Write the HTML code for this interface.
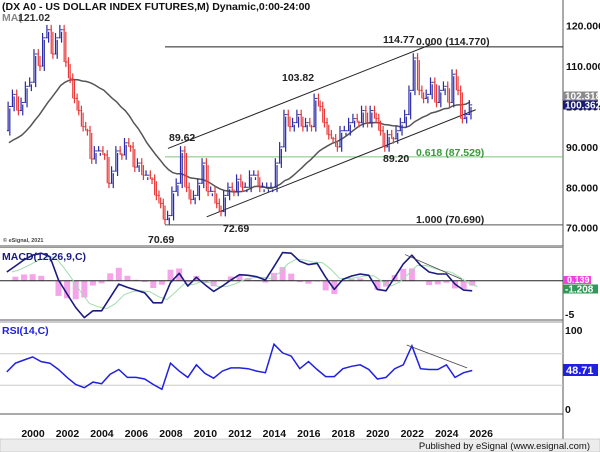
<!DOCTYPE html>
<html><head><meta charset="utf-8"><style>
body{margin:0;background:#fff;}
svg{display:block;font-family:"Liberation Sans",Arial,sans-serif;}
text{font-weight:bold;}
</style></head><body>
<svg id="c" width="600" height="452" viewBox="0 0 600 452">
<rect x="0" y="0" width="600" height="452" fill="#fff"/>
<g id="frame">
<line x1="563" y1="0" x2="563" y2="440" stroke="#555" stroke-width="1"/>
<line x1="0" y1="246" x2="563" y2="246" stroke="#555"/>
<line x1="0" y1="247.5" x2="563" y2="247.5" stroke="#999"/>
<line x1="0" y1="320" x2="563" y2="320" stroke="#555"/>
<line x1="0" y1="322" x2="563" y2="322" stroke="#999"/>
<line x1="0" y1="414" x2="563" y2="414" stroke="#555"/>
<rect x="0" y="439" width="600" height="13" fill="#ececec" stroke="#aaa" stroke-width="0.5"/>
<text x="590" y="449" font-size="9.5" text-anchor="end" fill="#111" style="font-weight:normal">Published by eSignal (www.esignal.com)</text>
</g>
<g id="main"></g>
<g id="macd"></g>
<g id="rsi"></g>
<g id="xaxis"></g>
</svg>
<script>
// quarterly closes starting 1994Q1 (1994-1998 used for MA warm-up)
const closes = [95,90,88,88, 84,82,85,84, 86,88,86,88, 90,95,97,99, 100,101,96,94,
 100,103,99,101, 105,106,113,110, 117,119,113,117, 119,111,107,102, 99,95,94,87,
 89,89,88,81, 84,89,88,91, 90,85,86,83, 83,82,78,76, 72,73,79,81, 89,80,77,78,
 81,86,79,79, 76,74,78,80, 79,82,80,80, 83,83,80,80, 80,80,86,90, 98,95,96,98,
 95,96,95,102, 100,96,93,92, 90,94,94,96, 97,96,99,96, 99,97,94,90, 93,92,94,96,
 98,104,112,104, 102,103,106,101, 104,105,101,108, 104,97,98,100.4];
const startYear = 1994;
const maWindow = 20;
const priceTicks = [70,80,90,100,110,120];
const years = [2000,2002,2004,2006,2008,2010,2012,2014,2016,2018,2020,2022,2024,2026];
// half-year values from 1999.0
const macdVals = [1.3,2.2,3.1,3.8,4.1,3.6,0.1,-2,-4,-5.5,-4.5,-4.5,-2.5,-0.5,-1,-1.4,-1.8,-3.3,-3.3,-0.3,1.1,-0.8,0.5,-0.6,-1.6,-0.8,0.1,0.9,0.8,0.6,0.1,2.1,4.2,4.1,2.9,2.4,2.6,0.5,-1.3,0.2,0.7,1,0.8,-1.3,-1.5,0.5,2.5,3.8,2.3,1.3,1,1,-0.5,-1.4,-1.5];
const rsiVals = [47,58,62,66,60,58,50,40,31,27,34,32,44,50,40,40,38,31,25,58,48,40,56,45,39,48,52,52,51,48,46,82,71,67,51,60,50,41,41,51,54,56,50,38,40,51,56,80,51,50,50,56,40,46,48.7];
const rsiLevels = [30,70];

const NS="http://www.w3.org/2000/svg";
function mk(parent,tag,attrs,text){const e=document.createElementNS(NS,tag);for(const k in attrs)e.setAttribute(k,attrs[k]);if(text!==undefined)e.textContent=text;parent.appendChild(e);return e;}
const X = yr => 24 + (yr-2000)*17.24;
const Y = p => 25.7 + (120-p)*4.04;
const YM = v => 280.7 - v*6.7;
const YR = v => 409 - v*0.79;
const qYear = i => startYear + i*0.25 + 0.125;

const main=document.getElementById('main');
priceTicks.forEach(p=>{
 const t=mk(main,'text',{x:566,y:Y(p)+4,'font-size':10.5,fill:'#111'},p.toFixed(3));
 
 
});
function hline(g,y,x1,x2,col,name){const l=mk(g,'line',{x1:x1,y1:y,x2:x2,y2:y,stroke:col,'stroke-width':1});}
hline(main,Y(114.77),165,563,'#222','fib-0-line');
hline(main,Y(87.529),165,563,'#7cc47c','fib-0618-line');
hline(main,Y(70.69),165,563,'#555','fib-1-line');
[[2008.35,89.62,2023.7,115.5],[2010.6,72.69,2026.2,99.2]].forEach((c,i)=>{
 const l=mk(main,'line',{x1:X(c[0]),y1:Y(c[1]),x2:X(c[2]),y2:Y(c[3]),stroke:'#222','stroke-width':1});
 
 
});
const firstBar = (1999-startYear)*4;
let mpts=[];
for(let i=firstBar;i<closes.length;i++){let s=0;for(let j=i-maWindow+1;j<=i;j++)s+=closes[j];mpts.push(X(qYear(i)).toFixed(1)+','+Y(s/maWindow).toFixed(1));}
const ma=mk(main,'polyline',{points:mpts.join(' '),fill:'none',stroke:'#555','stroke-width':1.5});


for(let i=firstBar;i<closes.length;i++){
 const o=closes[i-1],c=closes[i],x=X(qYear(i));
 const up=c>=o,col=up?'#2a2aa8':'#e83838';
 const hi=Math.max(o,c)+1.2,lo=Math.min(o,c)-1.2;
 const b=mk(main,'g',{});
 
 
 mk(b,'line',{x1:x-0.8,y1:Y(hi),x2:x-0.8,y2:Y(Math.min(o,c)),stroke:col,'stroke-width':1.2});
 mk(b,'line',{x1:x+0.9,y1:Y(Math.max(o,c)-0.5),x2:x+0.9,y2:Y(lo),stroke:col,'stroke-width':1.2});
 mk(b,'line',{x1:x-2,y1:Y(o),x2:x,y2:Y(o),stroke:col,'stroke-width':1});
 mk(b,'line',{x1:x,y1:Y(c),x2:x+2.1,y2:Y(c),stroke:col,'stroke-width':1});
}
const labs=[[2,10,'(DX A0 - US DOLLAR INDEX FUTURES,M) Dynamic,0:00-24:00','#111',10.5,'chart-title'],
[2,21,'MA(','#888',10.5,'ma-label'],[18,21,'121.02','#333',10.5,'high-2001-label'],
[169,141,'89.62','#222',10.5,'label-8962'],[282,81,'103.82','#222',10.5,'label-10382'],
[383,43,'114.77','#222',10.5,'label-11477'],[416,45,'0.000 (114.770)','#222',10.5,'fib-0-label'],
[416,156,'0.618 (87.529)','#3a9a3a',10.5,'fib-0618-label'],[383,162,'89.20','#222',10.5,'label-8920'],
[416,223,'1.000 (70.690)','#222',10.5,'fib-1-label'],[148,243,'70.69','#222',10.5,'label-7069'],
[223,232,'72.69','#222',10.5,'label-7269'],[3,242,'© eSignal, 2021','#444',5.5,'copyright-label']];
labs.forEach(l=>{const t=mk(main,'text',{x:l[0],y:l[1],fill:l[3],'font-size':l[4]},l[2]);});
function badge(g,y,bg,fg,txt,name){const b=mk(g,'g',{});mk(b,'rect',{x:563,y:y,width:35,height:9,fill:bg});mk(b,'text',{x:565,y:y+8,'font-size':10,fill:fg},txt);}
badge(main,91.5,'#8a8a8a','#fff','102.318','ma-value-badge');
badge(main,100.5,'#1a1a78','#fff','100.362','price-value-badge');

// MACD
const mg=document.getElementById('macd');
const sig=[];let e=macdVals[0];macdVals.forEach(v=>{e=e+(v-e)*0.45;sig.push(e);});
macdVals.forEach((v,i)=>{
 const x=X(1999+i*0.5),h=(v-sig[i])*1.2;
 const r=mk(mg,'rect',{x:x-3,y:Math.min(YM(0),YM(h)),width:6,height:Math.abs(YM(h)-YM(0)),fill:'#f59ae8',opacity:0.9});
 
 
});
hline(mg,YM(0),0,563,'#222','macd-zero-line');
const sp=mk(mg,'polyline',{points:sig.map((v,i)=>X(1999+i*0.5+0.3).toFixed(1)+','+YM(v).toFixed(1)).join(' '),fill:'none',stroke:'#9fdcb0','stroke-width':1});


const mp=mk(mg,'polyline',{points:macdVals.map((v,i)=>X(1999+i*0.5).toFixed(1)+','+YM(v).toFixed(1)).join(' '),fill:'none',stroke:'#1a1a80','stroke-width':1.6,'stroke-linejoin':'round'});


const mt=mk(mg,'line',{x1:X(2022.1),y1:YM(3.9),x2:X(2025.4),y2:YM(0.2),stroke:'#444','stroke-width':0.8});


const ml=mk(mg,'text',{x:2,y:260,'font-size':10.5,fill:'#1a1a80'},'MACD(12,26,9,C)');


const m5=mk(mg,'text',{x:565,y:318,'font-size':10.5,fill:'#111'},'-5');


(function(){const b=mk(mg,'g',{});mk(b,'rect',{x:563,y:276,width:28,height:8,fill:'#ee44dd'});mk(b,'text',{x:567,y:283,'font-size':9,fill:'#fff'},'0.139');})();
badge(mg,284.5,'#2e9a55','#fff','-1.208','macd-value-badge');

// RSI
const rg=document.getElementById('rsi');
rsiLevels.forEach(v=>hline(rg,YR(v),0,563,'#ccc','rsi-level-'+v));
const rp=mk(rg,'polyline',{points:rsiVals.map((v,i)=>X(1999+i*0.5).toFixed(1)+','+YR(v).toFixed(1)).join(' '),fill:'none',stroke:'#2020e0','stroke-width':1.5});


const rt=mk(rg,'line',{x1:X(2022.2),y1:YR(81),x2:X(2025.7),y2:YR(52),stroke:'#444','stroke-width':0.8});


const rl=mk(rg,'text',{x:2,y:334,'font-size':10.5,fill:'#2020e0'},'RSI(14,C)');


[[100,'100'],[0,'0']].forEach(a=>{const t=mk(rg,'text',{x:565,y:YR(a[0])+4,'font-size':10.5,fill:'#111'},a[1]);});
(function(){const b=mk(rg,'g',{});mk(b,'rect',{x:563,y:364,width:35,height:12,fill:'#2020e0'});mk(b,'text',{x:566,y:374,'font-size':11,fill:'#fff'},'48.71');})();

const xg=document.getElementById('xaxis');
years.forEach(y=>{const t=mk(xg,'text',{x:X(y)+9,y:437,'font-size':10.5,'text-anchor':'middle',fill:'#111'},String(y));});
</script>
</body></html>
